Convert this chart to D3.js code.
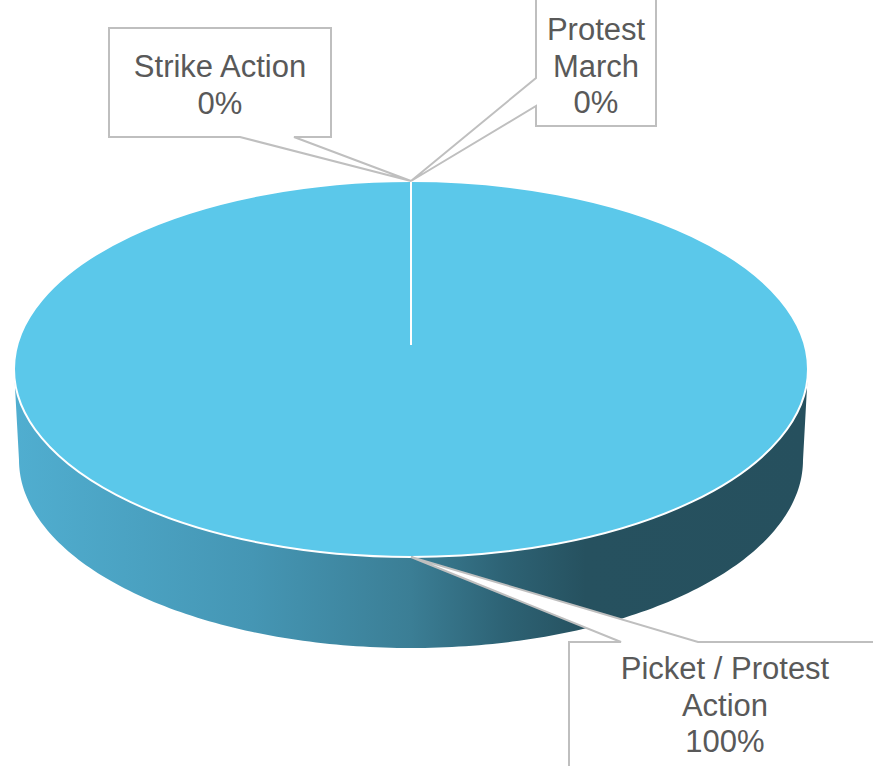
<!DOCTYPE html>
<html lang="en">
<head>
<meta charset="UTF-8">
<title>Action type</title>
<script src="https://d3js.org/d3.v7.min.js"></script>
<style>
  body { margin: 0; background: #fff; }
  text { font-family: "Liberation Sans", Arial, sans-serif; font-size: 31px; fill: #595959; }
</style>
</head>
<body>
<svg width="873" height="766"></svg>
<script>
// data
var categories = ["Strike Action", "Protest March", "Picket / Protest Action"];
var values = [0, 0, 100];
var labelLines = [["Strike Action"], ["Protest", "March"], ["Picket / Protest", "Action"]];

var svg = d3.select("svg");

// pie geometry (top face ellipse, depth of the side wall)
var cx = 411, cy = 369, rx = 397, ry = 188, depth = 91,
    bottomRx = 392, centreLift = 24;

var total = d3.sum(values);
var pct = d3.format(".0%");
var arcs = d3.pie().sort(null)(values);

function edge(a, rX, rY, oy) {
    return [cx + rX * Math.sin(a), cy + (oy || 0) - rY * Math.cos(a)];
}

// side wall gradient
var defs = svg.append("defs");
var grad = defs.append("linearGradient").attr("id", "side")
    .attr("gradientUnits", "userSpaceOnUse")
    .attr("x1", cx - rx).attr("x2", cx + rx).attr("y1", 0).attr("y2", 0);
[[0, "#50aed0"], [0.3, "#4596b4"], [0.5, "#3b7e95"], [0.62, "#2d6274"], [0.72, "#26515f"], [1, "#26505e"]]
    .forEach(function(s) { grad.append("stop").attr("offset", s[0]).attr("stop-color", s[1]); });

// side wall: front half between top and bottom ellipses
var sidePts = [];
d3.range(0, 181).forEach(function(i) {
    var a = -Math.PI / 2 - i * Math.PI / 180;
    sidePts.push(edge(a, rx, ry));
});
d3.range(0, 181).forEach(function(i) {
    var a = Math.PI / 2 + i * Math.PI / 180;
    sidePts.push(edge(a, bottomRx, ry, depth));
});
svg.append("path")
    .attr("d", d3.line()(sidePts) + "Z")
    .attr("fill", "url(#side)");

// top face, one path per slice
arcs.forEach(function(d) {
    if (d.endAngle - d.startAngle <= 0) return;
    var pts = [[cx, cy - centreLift]];
    var n = Math.max(2, Math.round((d.endAngle - d.startAngle) * 180 / Math.PI));
    d3.range(0, n + 1).forEach(function(i) {
        var a = d.startAngle + (d.endAngle - d.startAngle) * i / n;
        pts.push(edge(a, rx, ry));
    });
    svg.append("path")
        .attr("d", d3.line()(pts) + "Z")
        .attr("fill", "#5bc8ea")
        .attr("stroke", "none");
});
svg.append("ellipse")
    .attr("cx", cx).attr("cy", cy).attr("rx", rx).attr("ry", ry)
    .attr("fill", "none").attr("stroke", "#fff").attr("stroke-width", 2);

// slice boundaries
arcs.forEach(function(d) {
    var p = edge(d.startAngle, rx, ry);
    svg.append("line")
        .attr("x1", cx).attr("y1", cy - centreLift)
        .attr("x2", p[0]).attr("y2", p[1])
        .attr("stroke", "#fff").attr("stroke-width", 2);
});

// callout boxes: box, pointer base, text centre and first baseline
var boxes = [
    {x0: 109, y0: 28, x1: 331, y1: 137, side: "bottom", p: [240, 294], tx: 220, ty: 77},
    {x0: 536, y0: -5, x1: 656, y1: 126, side: "left", p: [78, 106], tx: 596, ty: 40},
    {x0: 569, y0: 642, x1: 880, y1: 790, side: "top", p: [621, 698], tx: 725, ty: 679}
];

arcs.forEach(function(d, i) {
    var b = boxes[i];
    var mid = (d.startAngle + d.endAngle) / 2;
    var t = edge(mid, rx, ry);
    var path;
    if (b.side === "bottom") {
        path = "M" + b.x0 + "," + b.y0 + "H" + b.x1 + "V" + b.y1 + "H" + b.p[1] +
            "L" + t + "L" + b.p[0] + "," + b.y1 + "H" + b.x0 + "Z";
    } else if (b.side === "left") {
        path = "M" + b.x0 + "," + b.y0 + "H" + b.x1 + "V" + b.y1 + "H" + b.x0 +
            "V" + b.p[1] + "L" + t + "L" + b.x0 + "," + b.p[0] + "Z";
    } else {
        path = "M" + b.x0 + "," + b.y0 + "H" + b.p[0] + "L" + t + "L" + b.p[1] + "," + b.y0 +
            "H" + b.x1 + "V" + b.y1 + "H" + b.x0 + "Z";
    }
    svg.append("path").attr("d", path)
        .attr("fill", "#fff").attr("stroke", "#bfbfbf").attr("stroke-width", 2);

    var lines = labelLines[i].concat([pct(d.data / total)]);
    lines.forEach(function(l, j) {
        svg.append("text").attr("text-anchor", "middle")
            .attr("x", b.tx).attr("y", b.ty + j * 36.5).text(l);
    });
});
</script>
</body>
</html>
